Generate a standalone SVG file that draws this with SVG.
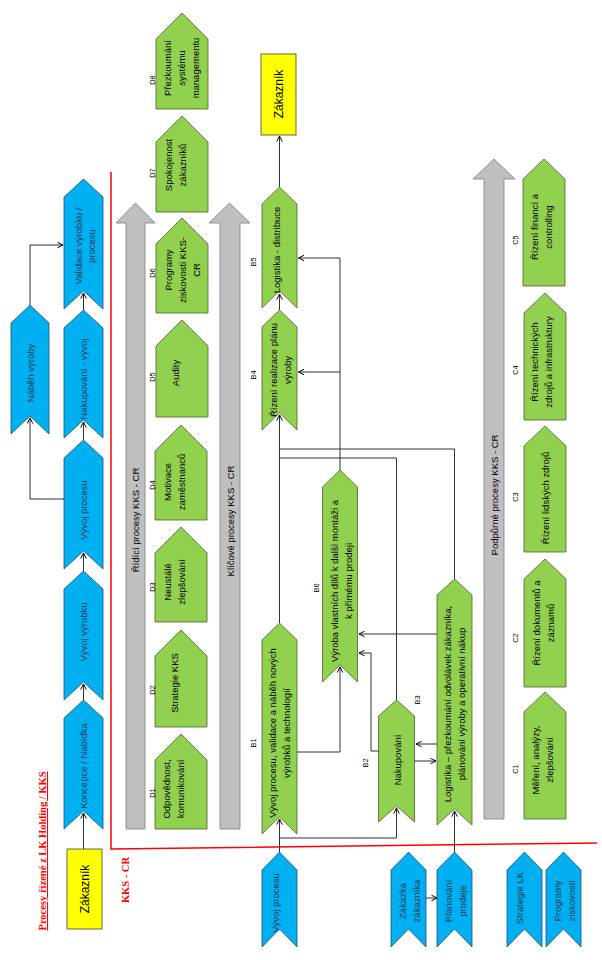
<svg xmlns="http://www.w3.org/2000/svg" width="602" height="960" viewBox="0 0 602 960">
<style>
.blue{fill:#00B0F0;stroke:#1F4E79;stroke-width:0.8}
.green{fill:#92D050;stroke:#4F6228;stroke-width:0.8}
.gray{fill:#BFBFBF;stroke:#7F7F7F;stroke-width:0.8}
.yellow{fill:#FFFF00;stroke:#404040;stroke-width:0.8}
.t{font-family:"Liberation Sans",Arial,sans-serif;font-size:9.5px;text-anchor:middle;fill:#000}
.tb{font-family:"Liberation Sans",Arial,sans-serif;font-size:9.5px;text-anchor:middle;fill:#17375E}
.lbl{font-family:"Liberation Sans",Arial,sans-serif;font-size:7.5px;text-anchor:middle;fill:#000}
.big{font-family:"Liberation Sans",Arial,sans-serif;font-size:12px;text-anchor:middle;fill:#000}
.red{font-family:"Liberation Serif","Times New Roman",serif;font-size:10.5px;font-weight:bold;text-anchor:middle;fill:#FF0000}
.c{fill:none;stroke:#303030;stroke-width:1}
.ca{fill:none;stroke:#303030;stroke-width:1;marker-end:url(#arr)}
.frame{fill:none;stroke:#FF0000;stroke-width:1.5}
</style>
<defs>
<marker id="arr" viewBox="0 0 10 10" refX="9" refY="5" markerWidth="7" markerHeight="7" orient="auto" markerUnits="userSpaceOnUse">
<path d="M1,1 L9,5 L1,9" fill="none" stroke="#000" stroke-width="1.4"/>
</marker>
</defs>

<!-- frame -->
<g id="frame">
<path class="frame" d="M111,172 V849 L597,843"/>
<text class="red" transform="translate(42,851) rotate(-90)" y="4" text-decoration="underline">Procesy řízené z LK Holding / KKS</text>
<text class="red" transform="translate(125,880) rotate(-90)" y="4">KKS - CR</text>
</g>

<!-- gray process arrows -->
<g id="ridici">
<path class="gray" d="M126,829 V223 H116 L135.5,203 L155,223 H145 V829 Z"/>
<text class="t" transform="translate(135.5,520) rotate(-90)" y="3.5">Řídící procesy KKS - CR</text>
</g>
<g id="klicove">
<path class="gray" d="M220,829 V223 H209 L229.5,203 L250,223 H240 V829 Z"/>
<text class="t" transform="translate(230,521) rotate(-90)" y="3.5">Klíčové procesy KKS - CR</text>
</g>
<g id="podpurne">
<path class="gray" d="M484,819 V179 H473 L494,159 L515,179 H504 V819 Z"/>
<text class="t" transform="translate(494,495) rotate(-90)" y="3.5">Podpůrné procesy KKS - CR</text>
</g>

<!-- top-left blue chain -->
<g id="validace">
<path class="blue" d="M64,197 L83.5,179 L103,197 L103,309 L83.5,291 L64,309 Z"/>
<text class="tb" transform="translate(84.5,246) rotate(-90)"><tspan x="0" y="-3">Validace výrobku /</tspan><tspan x="0" y="10">procesu</tspan></text>
</g>
<g id="nakupovani-vyvoj">
<path class="blue" d="M64,328 L83.5,310 L103,328 L103,438 L83.5,420 L64,438 Z"/>
<text class="tb" transform="translate(83.5,379) rotate(-90)" y="3.5">Nakupování - vývoj</text>
</g>
<g id="vyvoj-procesu-top">
<path class="blue" d="M64,458 L83.5,440 L103,458 L103,569 L83.5,551 L64,569 Z"/>
<text class="tb" transform="translate(83.5,510) rotate(-90)" y="3.5">Vývoj procesu</text>
</g>
<g id="vyvoj-vyrobku">
<path class="blue" d="M64,589 L83.5,571 L103,589 L103,700 L83.5,682 L64,700 Z"/>
<text class="tb" transform="translate(83.5,632) rotate(-90)" y="3.5">Vývoj výrobku</text>
</g>
<g id="koncepce">
<path class="blue" d="M64,718 L83.5,700 L103,718 L103,829 L83.5,811 L64,829 Z"/>
<text class="tb" transform="translate(83.5,766) rotate(-90)" y="3.5">Koncepce / Nabídka</text>
</g>
<g id="nabeh">
<path class="blue" d="M11,323 L30,305 L49,323 L49,434 L30,416 L11,434 Z"/>
<text class="tb" transform="translate(30,373) rotate(-90)" y="3.5">Náběh výroby</text>
</g>
<g id="zakaznik-bottom">
<rect class="yellow" x="67" y="849" width="35" height="80"/>
<text class="big" transform="translate(84.5,889) rotate(-90)" y="4">Zákazník</text>
</g>

<!-- D pentagons -->
<g id="D8">
<path class="green" d="M156,39 L182,13 L208,39 V109 H156 Z"/>
<text class="t" transform="translate(181,68) rotate(-90)"><tspan x="0" y="-10.5">Přezkoumání</tspan><tspan x="0" y="3.5">systému</tspan><tspan x="0" y="17.5">managementu</tspan></text>
<text class="lbl" transform="translate(152,80) rotate(-90)" y="2.5">D8</text>
</g>
<g id="D7">
<path class="green" d="M156,142 L182,116 L208,142 V212 H156 Z"/>
<text class="t" transform="translate(175.5,165) rotate(-90)"><tspan x="0" y="-3.5">Spokojenost</tspan><tspan x="0" y="10.5">zákazníků</tspan></text>
<text class="lbl" transform="translate(152,173) rotate(-90)" y="2.5">D7</text>
</g>
<g id="D6">
<path class="green" d="M156,244 L182,218 L208,244 V313 H156 Z"/>
<text class="t" transform="translate(182,270) rotate(-90)"><tspan x="0" y="-10.5">Programy</tspan><tspan x="0" y="3.5">ziskovosti KKS-</tspan><tspan x="0" y="17.5">CR</tspan></text>
<text class="lbl" transform="translate(152,273) rotate(-90)" y="2.5">D6</text>
</g>
<g id="D5">
<path class="green" d="M156,346 L182,320 L208,346 V417 H156 Z"/>
<text class="t" transform="translate(175,373) rotate(-90)" y="3.5">Audity</text>
<text class="lbl" transform="translate(152,377) rotate(-90)" y="2.5">D5</text>
</g>
<g id="D4">
<path class="green" d="M155,451 L181,425 L207,451 V520 H155 Z"/>
<text class="t" transform="translate(174.5,482) rotate(-90)"><tspan x="0" y="-3.5">Motivace</tspan><tspan x="0" y="10.5">zaměstnanců</tspan></text>
<text class="lbl" transform="translate(152,485) rotate(-90)" y="2.5">D4</text>
</g>
<g id="D3">
<path class="green" d="M155,553 L181,527 L207,553 V622 H155 Z"/>
<text class="t" transform="translate(174.5,582) rotate(-90)"><tspan x="0" y="-3.5">Neustálé</tspan><tspan x="0" y="10.5">zlepšování</tspan></text>
<text class="lbl" transform="translate(152,587) rotate(-90)" y="2.5">D3</text>
</g>
<g id="D2">
<path class="green" d="M155,656 L181,630 L207,656 V727 H155 Z"/>
<text class="t" transform="translate(174.5,683) rotate(-90)" y="3.5">Strategie KKS</text>
<text class="lbl" transform="translate(152,690) rotate(-90)" y="2.5">D2</text>
</g>
<g id="D1">
<path class="green" d="M155,760 L181,734 L207,760 V829 H155 Z"/>
<text class="t" transform="translate(173,789) rotate(-90)"><tspan x="0" y="-3.5">Odpovědnost,</tspan><tspan x="0" y="10.5">komunikování</tspan></text>
<text class="lbl" transform="translate(152,793) rotate(-90)" y="2.5">D1</text>
</g>

<!-- B chevrons -->
<g id="zakaznik-top">
<rect class="yellow" x="261" y="54" width="35" height="81"/>
<text class="big" transform="translate(278.5,94) rotate(-90)" y="4">Zákazník</text>
</g>
<g id="B5">
<path class="green" d="M262,204 L279.5,187 L297,204 V308 L279.5,291 L262,308 Z"/>
<text class="t" transform="translate(276,250) rotate(-90)" y="3.5">Logistika - distribuce</text>
<text class="lbl" transform="translate(253,262) rotate(-90)" y="2.5">B5</text>
</g>
<g id="B4">
<path class="green" d="M262,327 L279.5,310 L297,327 V430 L279.5,413 L262,430 Z"/>
<text class="t" transform="translate(280.5,370) rotate(-90)"><tspan x="0" y="-3.5">Řízení realizace plánu</tspan><tspan x="0" y="10.5">výroby</tspan></text>
<text class="lbl" transform="translate(253,375) rotate(-90)" y="2.5">B4</text>
</g>
<g id="B1">
<path class="green" d="M262,640 L279.5,623 L297,640 V834 L279.5,817 L262,834 Z"/>
<text class="t" transform="translate(279,733) rotate(-90)"><tspan x="0" y="-3.5">Vývoj procesu, validace a náběh nových</tspan><tspan x="0" y="10.5">výrobků a technologií</tspan></text>
<text class="lbl" transform="translate(253,743) rotate(-90)" y="2.5">B1</text>
</g>
<g id="B6">
<path class="green" d="M322.5,487 L340,470 L357.5,487 V682 L340,665 L322.5,682 Z"/>
<text class="t" transform="translate(341.5,581) rotate(-90)"><tspan x="0" y="-3.5">Výroba vlastních dílů k další montáži a</tspan><tspan x="0" y="10.5">k přímému prodeji</tspan></text>
<text class="lbl" transform="translate(316,588) rotate(-90)" y="2.5">B6</text>
</g>
<g id="B2">
<path class="green" d="M378.5,716 L396.5,700 L414.5,716 V822 L396.5,806 L378.5,822 Z"/>
<text class="t" transform="translate(397,760) rotate(-90)" y="3.5">Nakupování</text>
<text class="lbl" transform="translate(365,763) rotate(-90)" y="2.5">B2</text>
</g>
<g id="B3">
<path class="green" d="M437,595 L454.5,579 L472,595 V825 L454.5,809 L437,825 Z"/>
<text class="t" transform="translate(454,704) rotate(-90)"><tspan x="0" y="-3.5">Logistika – přezkoumání odvolávek zákazníka,</tspan><tspan x="0" y="10.5">plánování výroby a operativní nákup</tspan></text>
<text class="lbl" transform="translate(417,700) rotate(-90)" y="2.5">B3</text>
</g>

<!-- C pentagons -->
<g id="C5">
<path class="green" d="M523,179 L544,159 L565,179 V286 H523 Z"/>
<text class="t" transform="translate(541,227) rotate(-90)"><tspan x="0" y="-3.5">Řízení financí a</tspan><tspan x="0" y="10.5">controlling</tspan></text>
<text class="lbl" transform="translate(515,240) rotate(-90)" y="2.5">C5</text>
</g>
<g id="C4">
<path class="green" d="M524,313 L545,293 L566,313 V420 H524 Z"/>
<text class="t" transform="translate(541.5,362) rotate(-90)"><tspan x="0" y="-3.5">Řízení technických</tspan><tspan x="0" y="10.5">zdrojů a infrastruktury</tspan></text>
<text class="lbl" transform="translate(515,370) rotate(-90)" y="2.5">C4</text>
</g>
<g id="C3">
<path class="green" d="M524,446 L545,426 L566,446 V552 H524 Z"/>
<text class="t" transform="translate(545,498) rotate(-90)" y="3.5">Řízení lidských zdrojů</text>
<text class="lbl" transform="translate(515,497) rotate(-90)" y="2.5">C3</text>
</g>
<g id="C2">
<path class="green" d="M524,579 L545,559 L566,579 V687 H524 Z"/>
<text class="t" transform="translate(543,623) rotate(-90)"><tspan x="0" y="-3.5">Řízení dokumentů a</tspan><tspan x="0" y="10.5">záznamů</tspan></text>
<text class="lbl" transform="translate(515,638) rotate(-90)" y="2.5">C2</text>
</g>
<g id="C1">
<path class="green" d="M524,712 L545,692 L566,712 V819 H524 Z"/>
<text class="t" transform="translate(542.5,760) rotate(-90)"><tspan x="0" y="-3.5">Měření, analýzy,</tspan><tspan x="0" y="10.5">zlepšování</tspan></text>
<text class="lbl" transform="translate(515,769) rotate(-90)" y="2.5">C1</text>
</g>

<!-- bottom blue inputs -->
<g id="in-vyvoj-procesu">
<path class="blue" d="M262,870 L279.5,852 L297,870 V947 L279.5,929 L262,947 Z"/>
<text class="tb" transform="translate(275,903) rotate(-90)" y="3.5">Vývoj procesu</text>
</g>
<g id="in-zakazka">
<path class="blue" d="M391,870 L408.5,852 L426,870 V947 L408.5,929 L391,947 Z"/>
<text class="tb" transform="translate(409,901) rotate(-90)"><tspan x="0" y="-3.5">Zakázka</tspan><tspan x="0" y="10.5">zákazníka</tspan></text>
</g>
<g id="in-planovani">
<path class="blue" d="M437,870 L454.5,852 L472,870 V947 L454.5,929 L437,947 Z"/>
<text class="tb" transform="translate(455.5,901) rotate(-90)"><tspan x="0" y="-3.5">Plánování</tspan><tspan x="0" y="10.5">prodeje</tspan></text>
</g>
<g id="in-strategie">
<path class="blue" d="M507,870 L524.5,852 L542,870 V947 L524.5,929 L507,947 Z"/>
<text class="tb" transform="translate(519,898) rotate(-90)" y="3.5">Strategie LK</text>
</g>
<g id="in-programy">
<path class="blue" d="M546,870 L563.5,852 L581,870 V947 L563.5,929 L546,947 Z"/>
<text class="tb" transform="translate(564.5,901) rotate(-90)"><tspan x="0" y="-3.5">Programy</tspan><tspan x="0" y="10.5">ziskovosti</tspan></text>
</g>

<!-- connectors -->
<g id="connectors">
<path class="ca" d="M83.5,849 V813"/>
<path class="ca" d="M83.5,700 V684"/>
<path class="ca" d="M83.5,571 V553"/>
<path class="ca" d="M83.5,440 V422"/>
<path class="ca" d="M83.5,310 V293"/>
<path class="ca" d="M64,499 H30 V418"/>
<path class="ca" d="M30,305 V245 H63"/>
<path class="ca" d="M279.5,187 V136"/>
<path class="ca" d="M279.5,310 V294"/>
<path class="ca" d="M279.5,623 V415"/>
<path class="ca" d="M340,470 V258 H298.5"/>
<path class="ca" d="M340,372 H298.5"/>
<path class="c" d="M454.5,579 V449 H279.5"/>
<path class="c" d="M396.5,700 V458 H279.5"/>
<path class="ca" d="M297,752 H340 V667"/>
<path class="ca" d="M378.5,751 H371 V653 H359"/>
<path class="ca" d="M437,634 H359"/>
<path class="ca" d="M437,744 H416"/>
<path class="ca" d="M414.5,761 H436"/>
<path class="ca" d="M279.5,852 V819"/>
<path class="ca" d="M279.5,838 H396.5 V808"/>
<path class="ca" d="M454.5,852 V811"/>
<path class="ca" d="M426,898 H437"/>
</g>
</svg>
